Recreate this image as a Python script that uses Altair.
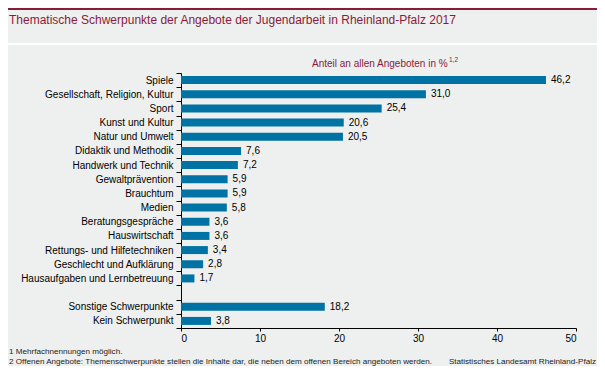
import altair as alt
import pandas as pd

categories = [
    "Spiele", "Gesellschaft, Religion, Kultur", "Sport", "Kunst und Kultur",
    "Natur und Umwelt", "Didaktik und Methodik", "Handwerk und Technik",
    "Gewaltprävention", "Brauchtum", "Medien", "Beratungsgespräche",
    "Hauswirtschaft", "Rettungs- und Hilfetechniken", "Geschlecht und Aufklärung",
    "Hausaufgaben und Lernbetreuung", "Sonstige Schwerpunkte", "Kein Schwerpunkt",
]
values = [46.2, 31.0, 25.4, 20.6, 20.5, 7.6, 7.2, 5.9, 5.9, 5.8, 3.6, 3.6, 3.4, 2.8, 1.7, 18.2, 3.8]
domain = categories[:15] + [" "] + categories[15:]
x_ticks = [0, 10, 20, 30, 40, 50]

title_text = "Thematische Schwerpunkte der Angebote der Jugendarbeit in Rheinland-Pfalz 2017"
subtitle_text = "Anteil an allen Angeboten in %"
subtitle_sup = "1,2"
foot1 = "1 Mehrfachnennungen  möglich."
foot2 = "2 Offenen  Angebote:  Themenschwerpunkte  stellen die Inhalte dar, die neben dem offenen  Bereich angeboten werden."
source_text = "Statistisches Landesamt  Rheinland-Pfalz"

FONT = "Liberation Sans"
RED = "#8a1a3a"
BLUE = "#0072a3"
BG = "#eef0ef"

df = pd.DataFrame({"cat": categories, "val": values})
df["label"] = [f"{v:.1f}".replace(".", ",") for v in values]

y_enc = alt.Y("cat:N", scale=alt.Scale(domain=domain, paddingInner=0, paddingOuter=0),
              sort=domain,
              axis=alt.Axis(title=None, labelFont=FONT, labelFontSize=10, labelColor="#000",
                            labelPadding=3, tickSize=5, tickColor="#000", domainColor="#000",
                            tickBand="extent", labelLimit=300))
x_enc = alt.X("val:Q", scale=alt.Scale(domain=[0, 50], nice=False),
              axis=alt.Axis(title=None, values=x_ticks, labelFont=FONT, labelFontSize=10,
                            labelColor="#000", tickSize=3, tickColor="#000", domainColor="#000",
                            labelPadding=2, grid=False, format="d"))

bars = alt.Chart(df).mark_bar(color=BLUE, height=8).encode(x=x_enc, y=y_enc)
labels = alt.Chart(df).mark_text(align="left", baseline="middle", dx=5, font=FONT,
                                 fontSize=10, color="#000").encode(
    x="val:Q", y=alt.Y("cat:N", sort=domain), text="label:N")


def txt(t, x, y, size, color, align="left", weight="normal"):
    return alt.Chart(pd.DataFrame({"t": [t]})).mark_text(
        align=align, baseline="middle", font=FONT, fontSize=size, color=color,
        fontWeight=weight).encode(x=alt.value(x), y=alt.value(y), text="t:N")


def rule(y, color, width):
    return alt.Chart(pd.DataFrame({"t": [0]})).mark_rule(color=color, strokeWidth=width).encode(
        x=alt.value(-173), x2=alt.value(416), y=alt.value(y))


deco = [
    rule(-64, RED, 2),
    rule(-29, "#ffffff", 2),
    txt(title_text, 9 - 181, 20 - 73, 12, RED),
    txt(subtitle_text, 312 - 181, 64 - 73, 10, RED),
    txt(subtitle_sup, 449 - 181, 60 - 73, 6.5, RED),
    txt(foot1, 9 - 181, 351.5 - 73, 8.1, "#222"),
    txt(foot2, 9 - 181, 361.5 - 73, 8.1, "#222"),
    txt(source_text, 596 - 181, 361.5 - 73, 8.1, "#222", align="right"),
]

chart = alt.layer(bars, labels, *deco).properties(
    width=395, height=255,
    background=BG,
    autosize=alt.AutoSizeParams(type="none"),
    padding={"left": 173, "top": 65, "right": 21, "bottom": 38},
).configure_view(strokeWidth=0)

chart.save("out.html", embed_options={"renderer": "svg", "actions": False})
